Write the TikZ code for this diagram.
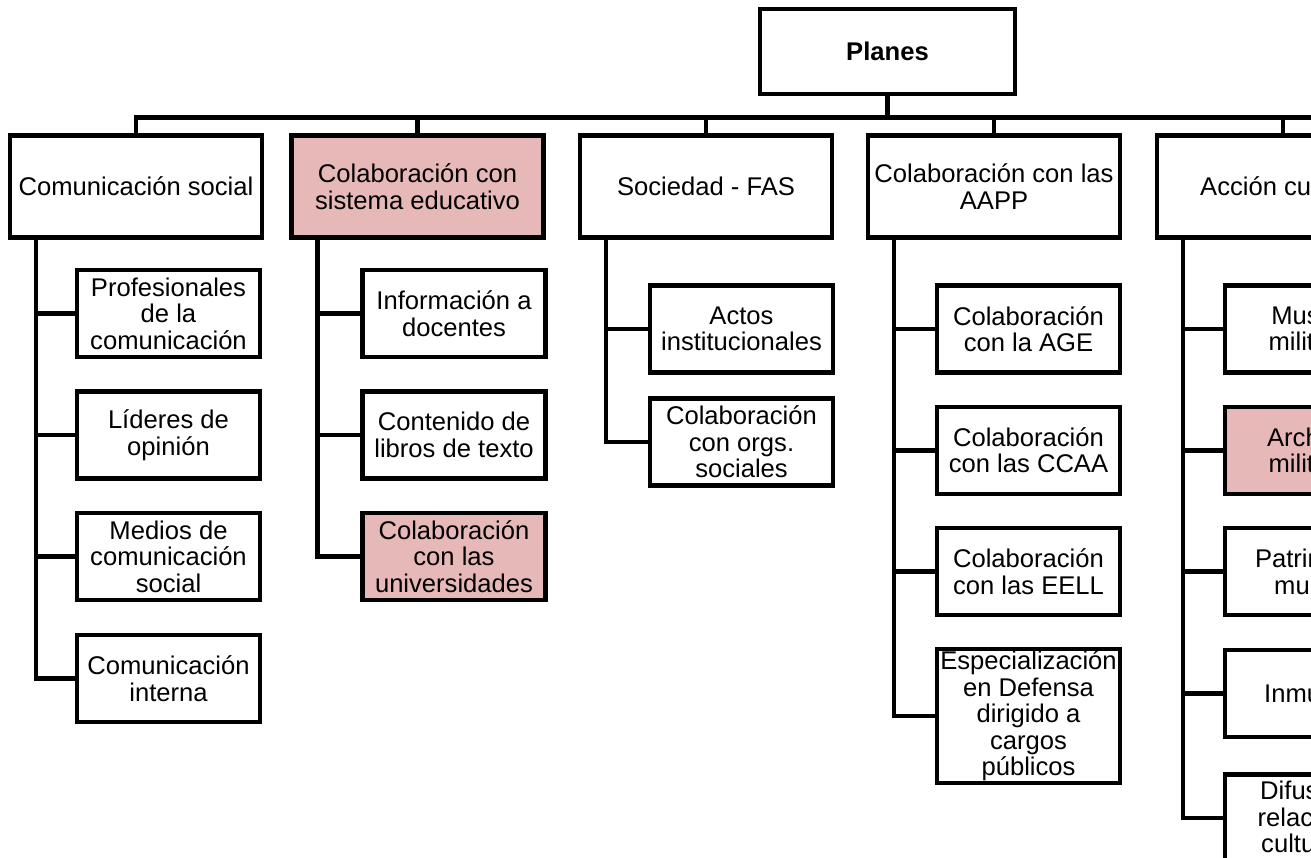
\documentclass[tikz,border=0pt]{standalone}
\usepackage{fontspec}
\setmainfont{Liberation Sans}
\usetikzlibrary{calc}
\definecolor{pinkfill}{RGB}{230,184,183}
\tikzset{
  conn/.style={draw=black, line width=4.5pt},
  boxbase/.style={draw=black, line width=4.5pt, fill=white, inner sep=0pt, outer sep=0pt,
    align=center, font=\fontsize{25.6}{26.5}\selectfont},
  topbox/.style={boxbase, minimum width=252pt, minimum height=102pt},
  kidbox/.style={boxbase, minimum width=183pt, minimum height=87pt},
  hl/.style={fill=pinkfill},
  partial/.style={anchor=west, inner sep=0pt, align=left, font=\fontsize{25.6}{26.5}\selectfont},
}
\begin{document}
\begin{tikzpicture}[x=1pt, y=-1pt]
\useasboundingbox (0,0) rectangle (1311,858);
\clip (0,0) rectangle (1311,858);
\fill[white] (0,0) rectangle (1311,858);

% root
\node[boxbase, minimum width=255pt, minimum height=85pt, font=\fontsize{25.6}{26.5}\selectfont\bfseries] (planes) at (887.5,51.5) {Planes};

% top level
\node[topbox] (com) at (136,186.5) {Comunicación social};
\node[topbox, hl] (edu) at (417.5,186.5) {Colaboración con\\sistema educativo};
\node[topbox] (soc) at (706,186.5) {Sociedad - FAS};
\node[topbox] (aapp) at (994,186.5) {Colaboración con las\\AAPP};
\node[topbox] (acc) at (1283,186.5) {};
\node[partial] (acct) at (1200,186.5) {Acción cu};

% bus
\coordinate (busR) at (1340,117.5);
\draw[conn] (planes.south) -- (planes.south |- busR);
\draw[conn] (com.north) -- (com.north |- busR) -- (busR);
\draw[conn] (edu.north) -- (edu.north |- busR);
\draw[conn] (soc.north) -- (soc.north |- busR);
\draw[conn] (aapp.north) -- (aapp.north |- busR);
\draw[conn] (acc.north) -- (acc.north |- busR);

% column 1
\node[kidbox] (c1a) at (168.5,313.5) {Profesionales\\de la\\comunicación};
\node[kidbox] (c1b) at (168.5,435) {Líderes de\\opinión};
\node[kidbox] (c1c) at (168.5,556.5) {Medios de\\comunicación\\social};
\node[kidbox] (c1d) at (168.5,678.5) {Comunicación\\interna};
\coordinate (v1) at ($(com.south west)+(26,0)$);
\foreach \k in {c1a,c1b,c1c,c1d} \draw[conn] (v1) |- (\k.west);

% column 2
\node[kidbox] (c2a) at (454,313.5) {Información a\\docentes};
\node[kidbox] (c2b) at (454,435) {Contenido de\\libros de texto};
\node[kidbox, hl] (c2c) at (454,556.5) {Colaboración\\con las\\universidades};
\coordinate (v2) at ($(edu.south west)+(26,0)$);
\foreach \k in {c2a,c2b,c2c} \draw[conn] (v2) |- (\k.west);

% column 3
\node[kidbox] (c3a) at (741.5,329) {Actos\\institucionales};
\node[kidbox] (c3b) at (741.5,442) {Colaboración\\con orgs.\\sociales};
\coordinate (v3) at ($(soc.south west)+(26,0)$);
\foreach \k in {c3a,c3b} \draw[conn] (v3) |- (\k.west);

% column 4
\node[kidbox] (c4a) at (1028.5,329) {Colaboración\\con la AGE};
\node[kidbox] (c4b) at (1028.5,450.3) {Colaboración\\con las CCAA};
\node[kidbox] (c4c) at (1028.5,571.6) {Colaboración\\con las EELL};
\node[kidbox, minimum height=134pt] (c4d) at (1028.5,716) {};
\begin{scope}
  \clip (c4d.north west) rectangle (c4d.south east);
  \node[boxbase, draw=none, fill=none] (c4dt) at (c4d.center) {Especialización\\en Defensa\\dirigido a\\cargos\\públicos};
\end{scope}
\draw[line width=4.5pt] (c4d.north west) rectangle (c4d.south east);
\coordinate (v4) at ($(aapp.south west)+(26,0)$);
\foreach \k in {c4a,c4b,c4c,c4d} \draw[conn] (v4) |- (\k.west);

% column 5
\node[kidbox] (c5a) at (1316.5,329) {};
\node[kidbox, hl] (c5b) at (1316.5,450.3) {};
\node[kidbox] (c5c) at (1316.5,571.6) {};
\node[kidbox] (c5d) at (1316.5,693.5) {};
\node[kidbox] (c5e) at (1316.5,818) {};
\node[partial] (c5at) at (1268.4,329) {\hspace*{2.8pt}Mus\\milit};
\node[partial] (c5bt) at (1266.9,450.3) {Arch\\\hspace*{1.5pt}milit};
\node[partial] (c5ct) at (1254.8,571.6) {Patrim\\\hspace*{19.2pt}mu};
\node[partial] (c5dt) at (1264,693.5) {Inmu};
\node[partial] (c5et) at (1257.5,817) {\hspace*{2.5pt}Difus\\relac\\\hspace*{3.5pt}cultu};
\coordinate (v5) at ($(acc.south west)+(26,0)$);
\foreach \k in {c5a,c5b,c5c,c5d,c5e} \draw[conn] (v5) |- (\k.west);
\end{tikzpicture}
\end{document}
